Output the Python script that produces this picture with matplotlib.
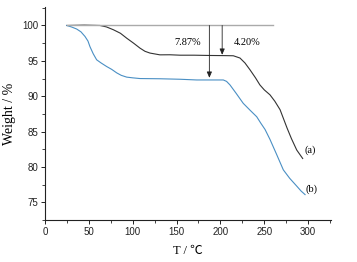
import matplotlib
matplotlib.use("Agg")
import matplotlib.pyplot as plt
from matplotlib.ticker import MultipleLocator

# Curve (a)
ta = [24.7, 45, 62.7, 70, 77.9, 86, 93.2, 101, 108.3, 114, 119.7, 131, 142.5, 154, 170, 188, 205, 214.7,
      222.3, 228, 233.7, 240, 245, 250, 256.5, 262, 268, 272, 276, 281, 287, 293.8]
wa = [100.0, 100.05, 100.0, 99.8, 99.4, 98.9, 98.2, 97.5, 96.8, 96.35, 96.1, 95.85, 95.86, 95.8, 95.8, 95.76, 95.74, 95.72,
      95.4, 94.7, 93.74, 92.6, 91.6, 90.9, 90.2, 89.3, 88.1, 86.8, 85.5, 84.0, 82.4, 81.2]

# Curve (b)
tb = [24.7, 30, 36.1, 41, 45.6, 49, 51.3, 55, 58.9, 64, 70.3, 76, 81.8, 87, 93.2, 100, 108.3, 131.1, 154,
      173, 190, 203.3, 207, 210.9, 218, 226, 234, 241.4, 246, 250.9, 256.5, 264, 271.7, 279, 287, 292, 296.5]
wb = [100.0, 99.8, 99.5, 99.1, 98.45, 97.8, 97.0, 96.0, 95.15, 94.7, 94.2, 93.8, 93.3, 92.95, 92.7, 92.6, 92.5, 92.47, 92.4,
      92.3, 92.3, 92.3, 92.1, 91.6, 90.4, 89.0, 88.0, 87.1, 86.2, 85.3, 83.9, 81.8, 79.6, 78.4, 77.3, 76.6, 76.1]

loss_labels = ["7.87%", "4.20%"]
curve_labels = ["(a)", "(b)"]

fig = plt.figure(figsize=(3.57, 2.62), dpi=100)
ax = fig.add_axes([0.126, 0.160, 0.801, 0.813])

ax.plot(ta, wa, color="#333333", lw=0.8)
ax.plot(tb, wb, color="#4a8fc4", lw=0.8)

# reference line at 100 %
ax.plot([24.7, 260], [100, 100], color="#aaaaaa", lw=1.0)

arrow_kw = dict(arrowstyle="-|>,head_length=0.35,head_width=0.15", color="#222222", lw=0.6, shrinkA=0, shrinkB=0)
ax.annotate("", xy=(187.4, 92.6), xytext=(187.4, 100), arrowprops=arrow_kw)
ax.annotate("", xy=(202, 95.85), xytext=(202, 100), arrowprops=arrow_kw)

ax.text(163, 97.55, loss_labels[0], fontsize=7.5, family="Liberation Serif", ha="center", va="center")
ax.text(230, 97.55, loss_labels[1], fontsize=7.5, family="Liberation Serif", ha="center", va="center")
ax.text(302, 82.4, curve_labels[0], fontsize=7.5, family="Liberation Serif", ha="center", va="center")
ax.text(304, 76.9, curve_labels[1], fontsize=7.5, family="Liberation Serif", ha="center", va="center")

ax.set_xlim(0, 326)
ax.set_ylim(72.5, 102.6)
ax.xaxis.set_major_locator(MultipleLocator(50))
ax.xaxis.set_minor_locator(MultipleLocator(25))
ax.yaxis.set_major_locator(MultipleLocator(5))
ax.yaxis.set_minor_locator(MultipleLocator(2.5))

for s in ["top", "right"]:
    ax.spines[s].set_visible(False)
for s in ["left", "bottom"]:
    ax.spines[s].set_linewidth(0.8)
    ax.spines[s].set_color("#222222")

ax.tick_params(which="major", direction="out", length=3, width=0.7, labelsize=7, pad=2, colors="#222222")
ax.tick_params(which="minor", direction="out", length=2, width=0.6, colors="#222222")
for lab in ax.get_xticklabels() + ax.get_yticklabels():
    lab.set_family("Liberation Sans")

ax.set_xlabel("T / ℃", fontsize=9, family=["Liberation Serif", "Noto Sans CJK SC"], labelpad=6)
ax.set_ylabel("Weight / %", fontsize=10, family="Liberation Serif", labelpad=4)

fig.savefig("out.png", dpi=100)
